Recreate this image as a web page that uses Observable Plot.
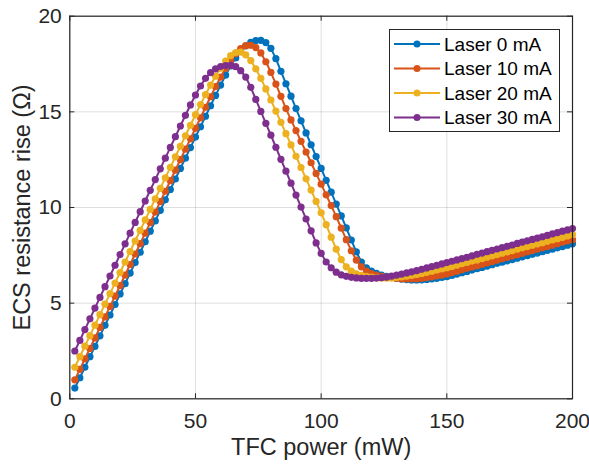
<!DOCTYPE html>
<html>
<head>
<meta charset="utf-8">
<script src="https://cdn.jsdelivr.net/npm/d3@7"></script>
<script src="https://cdn.jsdelivr.net/npm/@observablehq/plot@0.6"></script>
<style>
  html, body { margin: 0; padding: 0; background: #fff; }
  #wrap { position: relative; width: 589px; height: 467px; font-family: "Liberation Sans", Arial, Helvetica, sans-serif; }
  #legend { position: absolute; left: 389px; top: 29px; }
</style>
</head>
<body>
<div id="wrap"></div>
<script>
// ---- data ----
const tfcPower = [2,4,6,8,10,12,14,16,18,20,22,24,26,28,30,32,34,36,38,40,42,44,46,48,50,52,54,56,58,60,62,64,66,68,70,72,74,76,78,80,82,84,86,88,90,92,94,96,98,100,102,104,106,108,110,112,114,116,118,120,122,124,126,128,130,132,134,136,138,140,142,144,146,148,150,152,154,156,158,160,162,164,166,168,170,172,174,176,178,180,182,184,186,188,190,192,194,196,198,200];

const laser0 = [0.56,1.10,1.65,2.20,2.74,3.29,3.84,4.38,4.93,5.48,6.02,6.57,7.12,7.66,8.21,8.76,9.30,9.85,10.40,10.94,11.49,12.04,12.58,13.13,13.68,14.22,14.77,15.32,15.86,16.40,16.92,17.40,17.82,18.17,18.45,18.63,18.73,18.74,18.62,18.32,17.78,17.12,16.47,15.82,15.17,14.53,13.90,13.28,12.66,12.04,11.42,10.80,10.18,9.56,8.93,8.30,7.68,7.15,6.85,6.68,6.56,6.47,6.40,6.35,6.30,6.26,6.23,6.21,6.21,6.22,6.24,6.27,6.30,6.34,6.38,6.45,6.52,6.59,6.66,6.73,6.80,6.87,6.94,7.01,7.08,7.14,7.21,7.28,7.35,7.42,7.48,7.55,7.62,7.69,7.76,7.82,7.89,7.96,8.03,8.10];

const laser10 = [0.99,1.54,2.09,2.63,3.18,3.73,4.28,4.83,5.37,5.92,6.47,7.02,7.57,8.11,8.66,9.21,9.76,10.31,10.85,11.40,11.95,12.50,13.05,13.59,14.14,14.69,15.24,15.79,16.32,16.82,17.28,17.70,18.04,18.30,18.46,18.48,18.36,18.08,17.62,17.06,16.45,15.81,15.17,14.58,14.02,13.46,12.90,12.34,11.78,11.22,10.66,10.10,9.52,8.92,8.32,7.74,7.25,6.90,6.68,6.55,6.46,6.40,6.36,6.33,6.30,6.28,6.27,6.27,6.28,6.30,6.33,6.37,6.42,6.47,6.53,6.60,6.67,6.74,6.82,6.89,6.96,7.03,7.10,7.17,7.25,7.32,7.39,7.46,7.53,7.60,7.68,7.75,7.82,7.89,7.96,8.03,8.11,8.18,8.25,8.32];

const laser20 = [1.65,2.20,2.75,3.30,3.85,4.40,4.95,5.50,6.05,6.60,7.15,7.70,8.25,8.80,9.35,9.90,10.45,11.00,11.55,12.10,12.65,13.20,13.75,14.30,14.85,15.38,15.90,16.40,16.86,17.28,17.65,17.94,18.10,18.12,17.98,17.68,17.25,16.75,16.20,15.62,15.04,14.45,13.86,13.27,12.68,12.09,11.50,10.91,10.32,9.72,9.10,8.45,7.82,7.28,6.90,6.67,6.53,6.45,6.40,6.36,6.33,6.31,6.31,6.32,6.34,6.37,6.41,6.45,6.50,6.55,6.61,6.67,6.73,6.79,6.85,6.92,6.99,7.06,7.13,7.20,7.26,7.33,7.40,7.47,7.54,7.61,7.68,7.75,7.82,7.89,7.96,8.03,8.10,8.16,8.23,8.30,8.37,8.44,8.51,8.58];

const laser30 = [2.50,3.05,3.62,4.18,4.74,5.30,5.86,6.42,6.98,7.54,8.10,8.66,9.22,9.78,10.34,10.90,11.46,12.02,12.58,13.14,13.70,14.26,14.82,15.36,15.88,16.35,16.75,17.05,17.25,17.37,17.42,17.43,17.36,17.15,16.82,16.28,15.65,15.02,14.40,13.78,13.15,12.52,11.90,11.27,10.65,10.02,9.40,8.78,8.15,7.60,7.15,6.85,6.62,6.48,6.40,6.35,6.32,6.30,6.30,6.30,6.31,6.33,6.36,6.41,6.46,6.52,6.58,6.64,6.70,6.77,6.84,6.91,6.98,7.05,7.12,7.19,7.26,7.33,7.40,7.47,7.55,7.62,7.69,7.76,7.83,7.90,7.97,8.04,8.12,8.19,8.26,8.33,8.40,8.47,8.54,8.62,8.69,8.76,8.83,8.90];

const seriesNames = ["Laser 0 mA", "Laser 10 mA", "Laser 20 mA", "Laser 30 mA"];
const seriesValues = [laser0, laser10, laser20, laser30];
const seriesColors = ["#0072BD", "#D95319", "#EDB120", "#7E2F8E"];

const xTicks = [0, 50, 100, 150, 200];
const yTicks = [0, 5, 10, 15, 20];
const xLabel = "TFC power (mW)";
const yLabel = "ECS resistance rise (Ω)";

// ---- build table ----
const rows = [];
seriesNames.forEach((name, i) => {
  tfcPower.forEach((x, j) => rows.push({ power: x, rise: seriesValues[i][j], series: name }));
});

const W = 589, H = 467;
const mL = 69.3, mR = 17, mT = 15.7, mB = 68.7;
const plotW = W - mL - mR, plotH = H - mT - mB;
const ink = "#262626";
const tickLen = 5;

const seriesMarks = [];
seriesNames.forEach((name) => {
  const d = rows.filter(r => r.series === name);
  seriesMarks.push(Plot.line(d, { x: "power", y: "rise", stroke: "series", strokeWidth: 2 }));
  seriesMarks.push(Plot.dot(d, { x: "power", y: "rise", fill: "series", r: 3.6, stroke: "none" }));
});

const chart = Plot.plot({
  width: W,
  height: H,
  marginLeft: mL,
  marginRight: mR,
  marginTop: mT,
  marginBottom: mB,
  style: { fontFamily: "'Liberation Sans', Arial, Helvetica, sans-serif", fontSize: "21px", color: ink, background: "#fff", overflow: "visible" },
  x: { domain: [0, 200] },
  y: { domain: [0, 20] },
  color: { domain: seriesNames, range: seriesColors },
  marks: [
    Plot.gridX(xTicks, { stroke: ink, strokeOpacity: 0.15, strokeWidth: 1 }),
    Plot.gridY(yTicks, { stroke: ink, strokeOpacity: 0.15, strokeWidth: 1 }),
    ...seriesMarks,
    Plot.frame({ stroke: ink, strokeWidth: 1.2 }),
    // inward ticks on all four sides
    Plot.ruleX(xTicks, { x: d => d, stroke: ink, insetTop: plotH - tickLen }),
    Plot.ruleX(xTicks, { x: d => d, stroke: ink, insetBottom: plotH - tickLen }),
    Plot.ruleY(yTicks, { y: d => d, stroke: ink, insetRight: plotW - tickLen }),
    Plot.ruleY(yTicks, { y: d => d, stroke: ink, insetLeft: plotW - tickLen }),
    Plot.axisX(xTicks, { tickSize: 0, tickPadding: 14, fontSize: 21, label: xLabel, labelAnchor: "center", labelArrow: "none", labelOffset: 56, fill: ink }),
    Plot.axisY(yTicks, { tickSize: 0, tickPadding: 8, fontSize: 21, label: yLabel, labelAnchor: "center", labelArrow: "none", labelOffset: 56, fill: ink })
  ]
});

const wrap = document.getElementById("wrap");
wrap.appendChild(chart);

// label font sizes
d3.select(chart).selectAll("g[aria-label='x-axis label'] text, g[aria-label='y-axis label'] text").style("font-size", "23.5px");

// ---- legend (inside axes, top right) ----
const lgW = 171, lgH = 103, rowH = 24.5, row0 = 15;
const lg = d3.select(wrap).append("svg")
  .attr("id", "legend")
  .attr("width", lgW).attr("height", lgH)
  .style("font-family", "'Liberation Sans', Arial, Helvetica, sans-serif");
lg.append("rect").attr("x", 0.5).attr("y", 0.5).attr("width", lgW - 1).attr("height", lgH - 1)
  .attr("fill", "#fff").attr("stroke", ink).attr("stroke-width", 1);
seriesNames.forEach((name, i) => {
  const cy = row0 + i * rowH;
  const g = lg.append("g");
  g.append("line").attr("x1", 5).attr("x2", 51).attr("y1", cy).attr("y2", cy)
    .attr("stroke", seriesColors[i]).attr("stroke-width", 2);
  g.append("circle").attr("cx", 28).attr("cy", cy).attr("r", 3.5).attr("fill", seriesColors[i]);
  g.append("text").attr("x", 55).attr("y", cy).attr("dy", "0.35em")
    .attr("font-size", 19).attr("fill", "#000").text(name);
});
</script>
</body>
</html>
